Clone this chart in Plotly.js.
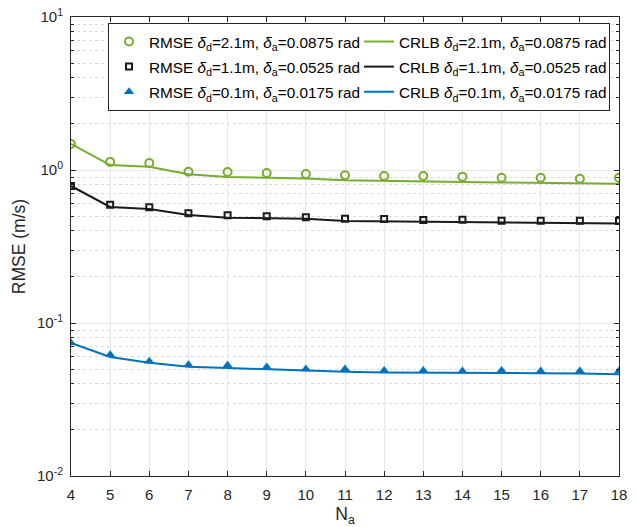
<!DOCTYPE html>
<html>
<head>
<meta charset="utf-8">
<script src="https://cdn.plot.ly/plotly-3.0.1.min.js"></script>
<style>html,body{margin:0;padding:0;background:#fff;}#chart{width:639px;height:527px;}</style>
</head>
<body>
<div id="chart"></div>
<script>
var Na = [4,5,6,7,8,9,10,11,12,13,14,15,16,17,18];

var rmseGreen = [1.48,1.13,1.11,0.975,0.97,0.956,0.94,0.925,0.914,0.914,0.904,0.89,0.89,0.877,0.89];
var crlbGreen = [1.48,1.078,1.05,0.937,0.90,0.89,0.88,0.856,0.847,0.84,0.835,0.83,0.822,0.818,0.814];

var rmseBlack = [0.786,0.593,0.570,0.521,0.506,0.498,0.491,0.481,0.478,0.471,0.473,0.466,0.466,0.466,0.464];
var crlbBlack = [0.786,0.573,0.556,0.508,0.488,0.484,0.481,0.464,0.462,0.460,0.457,0.455,0.453,0.451,0.447];

var rmseBlue = [0.074,0.062,0.0562,0.0534,0.0529,0.0516,0.0501,0.0501,0.049,0.049,0.0486,0.049,0.0486,0.0486,0.0486];
var crlbBlue = [0.074,0.060,0.055,0.0518,0.0508,0.0499,0.0486,0.048,0.0475,0.0475,0.0473,0.047,0.047,0.0468,0.0462];

var names = [
  'RMSE <i>δ</i><sub>d</sub>=2.1m, <i>δ</i><sub>a</sub>=0.0875 rad',
  'CRLB <i>δ</i><sub>d</sub>=2.1m, <i>δ</i><sub>a</sub>=0.0875 rad',
  'RMSE <i>δ</i><sub>d</sub>=1.1m, <i>δ</i><sub>a</sub>=0.0525 rad',
  'CRLB <i>δ</i><sub>d</sub>=1.1m, <i>δ</i><sub>a</sub>=0.0525 rad',
  'RMSE <i>δ</i><sub>d</sub>=0.1m, <i>δ</i><sub>a</sub>=0.0175 rad',
  'CRLB <i>δ</i><sub>d</sub>=0.1m, <i>δ</i><sub>a</sub>=0.0175 rad'
];

var yTickVals = [0.01, 0.1, 1, 10];
var yTickText = ['10<sup>-2</sup>','10<sup>-1</sup>','10<sup>0</sup>','10<sup>1</sup>'];

var cGreen = '#77AC30', cBlack = '#1a1a1a', cBlue = '#0072BD';

function legendName(s) { return '<span style="font-size:15.3px">' + s + '</span>'; }

var traces = [
  {x: Na, y: rmseGreen, name: legendName(names[0]), mode: 'markers', type: 'scatter',
   marker: {symbol: 'circle-open', size: 8, color: cGreen, line: {width: 2, color: cGreen}}},
  {x: Na, y: crlbGreen, name: legendName(names[1]), mode: 'lines', type: 'scatter',
   line: {color: cGreen, width: 2}},
  {x: Na, y: rmseBlack, name: legendName(names[2]), mode: 'markers', type: 'scatter',
   marker: {symbol: 'square-open', size: 6, color: cBlack, line: {width: 2, color: cBlack}}},
  {x: Na, y: crlbBlack, name: legendName(names[3]), mode: 'lines', type: 'scatter',
   line: {color: cBlack, width: 2}},
  {x: Na, y: rmseBlue, name: legendName(names[4]), mode: 'markers', type: 'scatter',
   marker: {symbol: 'triangle-up', size: 9, color: cBlue, line: {width: 0}}},
  {x: Na, y: crlbBlue, name: legendName(names[5]), mode: 'lines', type: 'scatter',
   line: {color: cBlue, width: 2}}
];

var axisColor = '#262626';
var fontFam = 'Liberation Sans, Arial, Helvetica, sans-serif';

var layout = {
  width: 639, height: 527,
  margin: {l: 71, r: 20, t: 17, b: 51},
  paper_bgcolor: '#fff', plot_bgcolor: '#fff',
  font: {family: fontFam, size: 15, color: axisColor},
  showlegend: true,
  legend: {
    orientation: 'h', x: 0.9836, xanchor: 'right', y: 0.987, yanchor: 'top',
    bgcolor: '#fff', bordercolor: '#262626', borderwidth: 1,
    entrywidth: 205, entrywidthmode: 'pixels',
    font: {family: fontFam, size: 17, color: '#000'},
    tracegroupgap: 0, itemwidth: 30
  },
  xaxis: {
    range: [4, 18], tickmode: 'array', tickvals: Na, ticktext: Na.map(String),
    showline: true, linecolor: axisColor, linewidth: 1, mirror: 'ticks',
    ticks: 'inside', ticklen: 5, tickcolor: axisColor,
    showgrid: true, gridcolor: '#e6e6e6', gridwidth: 1, zeroline: false,
    tickfont: {size: 15, color: axisColor}, ticklabelstandoff: 5,
    title: {text: 'N<sub>a</sub>', font: {size: 17.5, color: axisColor}, standoff: 12}
  },
  yaxis: {
    type: 'log', range: [-2, 1],
    tickmode: 'array', tickvals: yTickVals, ticktext: yTickText,
    showline: true, linecolor: axisColor, linewidth: 1, mirror: 'ticks',
    ticks: 'inside', ticklen: 5, tickcolor: axisColor,
    showgrid: true, gridcolor: '#e6e6e6', gridwidth: 1, zeroline: false,
    tickfont: {size: 15, color: axisColor}, ticklabelstandoff: 4,
    minor: {dtick: 'D1', ticks: 'inside', ticklen: 3, tickcolor: axisColor,
            showgrid: true, gridcolor: '#d9d9d9', griddash: 'dot', gridwidth: 1},
    title: {text: 'RMSE (m/s)', font: {size: 17.5, color: axisColor}, standoff: 6}
  }
};

Plotly.newPlot('chart', traces, layout, {displayModeBar: false, staticPlot: true});
</script>
</body>
</html>
